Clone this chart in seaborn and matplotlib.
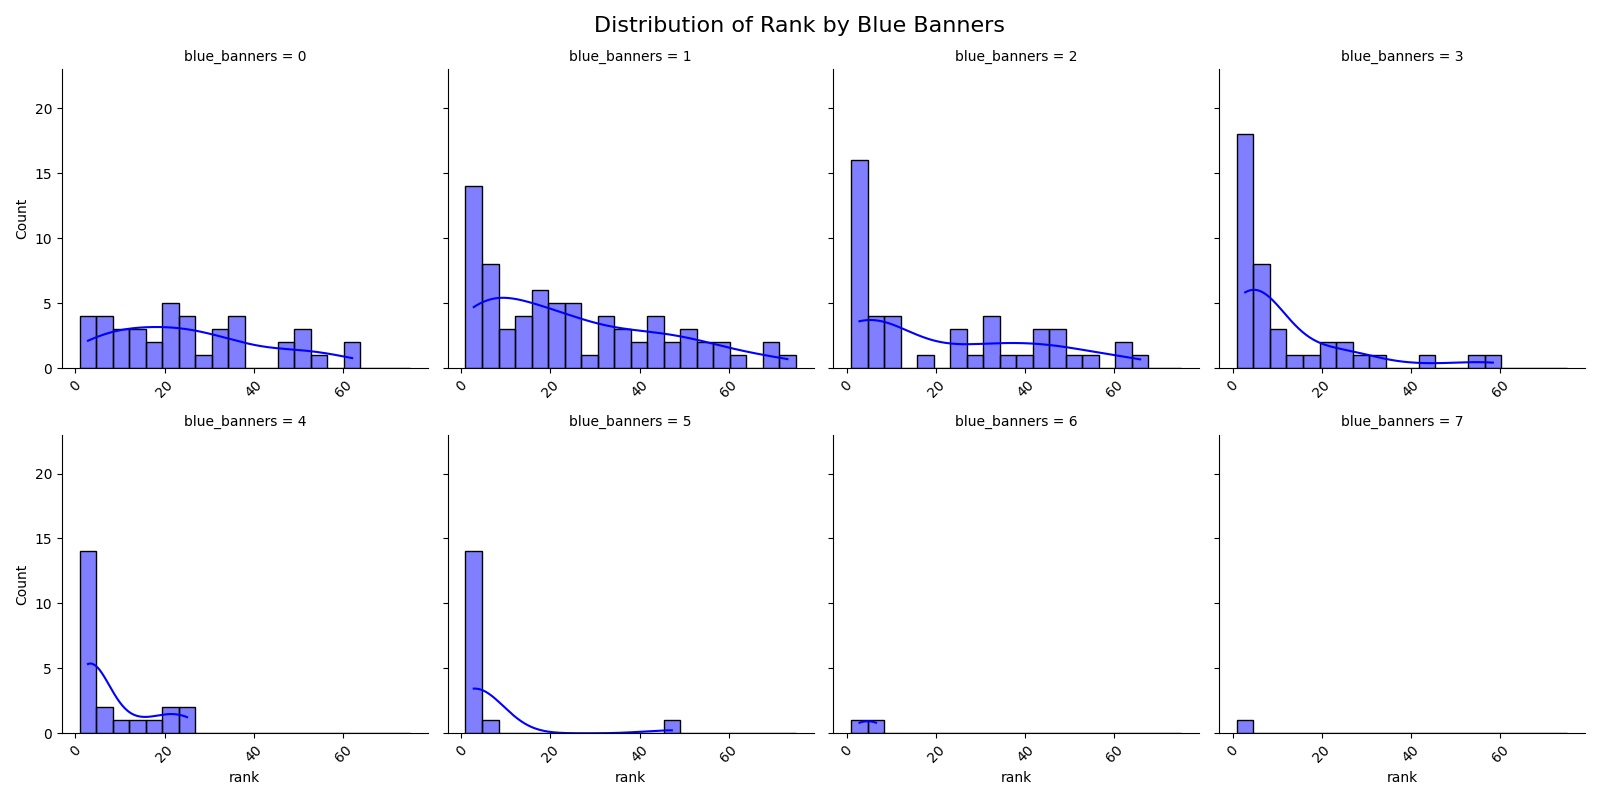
import numpy as np
import pandas as pd
import seaborn as sns
import matplotlib
matplotlib.use("Agg")
import matplotlib.pyplot as plt

bin_start = 1.0
bin_width = 3.7
# counts per bin (bins of width 3.7 starting at rank 1)
counts_0 = [4,4,3,3,2,5,4,1,3,4,0,0,2,3,1,0,2]
counts_1 = [14,8,3,4,6,5,5,1,4,3,2,4,2,3,2,2,1,0,2,1]
counts_2 = [16,4,4,0,1,0,3,1,4,1,1,3,3,1,1,0,2,1]
counts_3 = [18,8,3,1,1,2,2,1,1,0,0,1,0,0,1,1]
counts_4 = [14,2,1,1,1,2,2]
counts_5 = [14,1,0,0,0,0,0,0,0,0,0,0,1]
counts_6 = [1,1]
counts_7 = [1]
all_counts = [counts_0, counts_1, counts_2, counts_3, counts_4, counts_5, counts_6, counts_7]

rows = []
for g, cs in enumerate(all_counts):
    for i, c in enumerate(cs):
        center = bin_start + bin_width * (i + 0.5)
        rows += [(g, center)] * c
df = pd.DataFrame(rows, columns=["blue_banners", "rank"])

edges = bin_start + bin_width * np.arange(21)
g = sns.FacetGrid(df, col="blue_banners", col_wrap=4, height=4, aspect=1.0, sharey=True, sharex=True)
g.map_dataframe(sns.histplot, x="rank", bins=edges, kde=True, color="blue")
g.set(ylim=(0, 23), xlim=(-3, 79), xticks=[0, 20, 40, 60])
for ax in g.axes.flat:
    ax.tick_params(axis="x", labelrotation=45)
    ax.set_xlabel("rank")
g.set_ylabels("Count")
for ax in g.axes.flat:
    ax.tick_params(labelbottom=True)
g.figure.suptitle("Distribution of Rank by Blue Banners", fontsize=16)
g.figure.tight_layout()
g.figure.savefig("out.png", dpi=100)
